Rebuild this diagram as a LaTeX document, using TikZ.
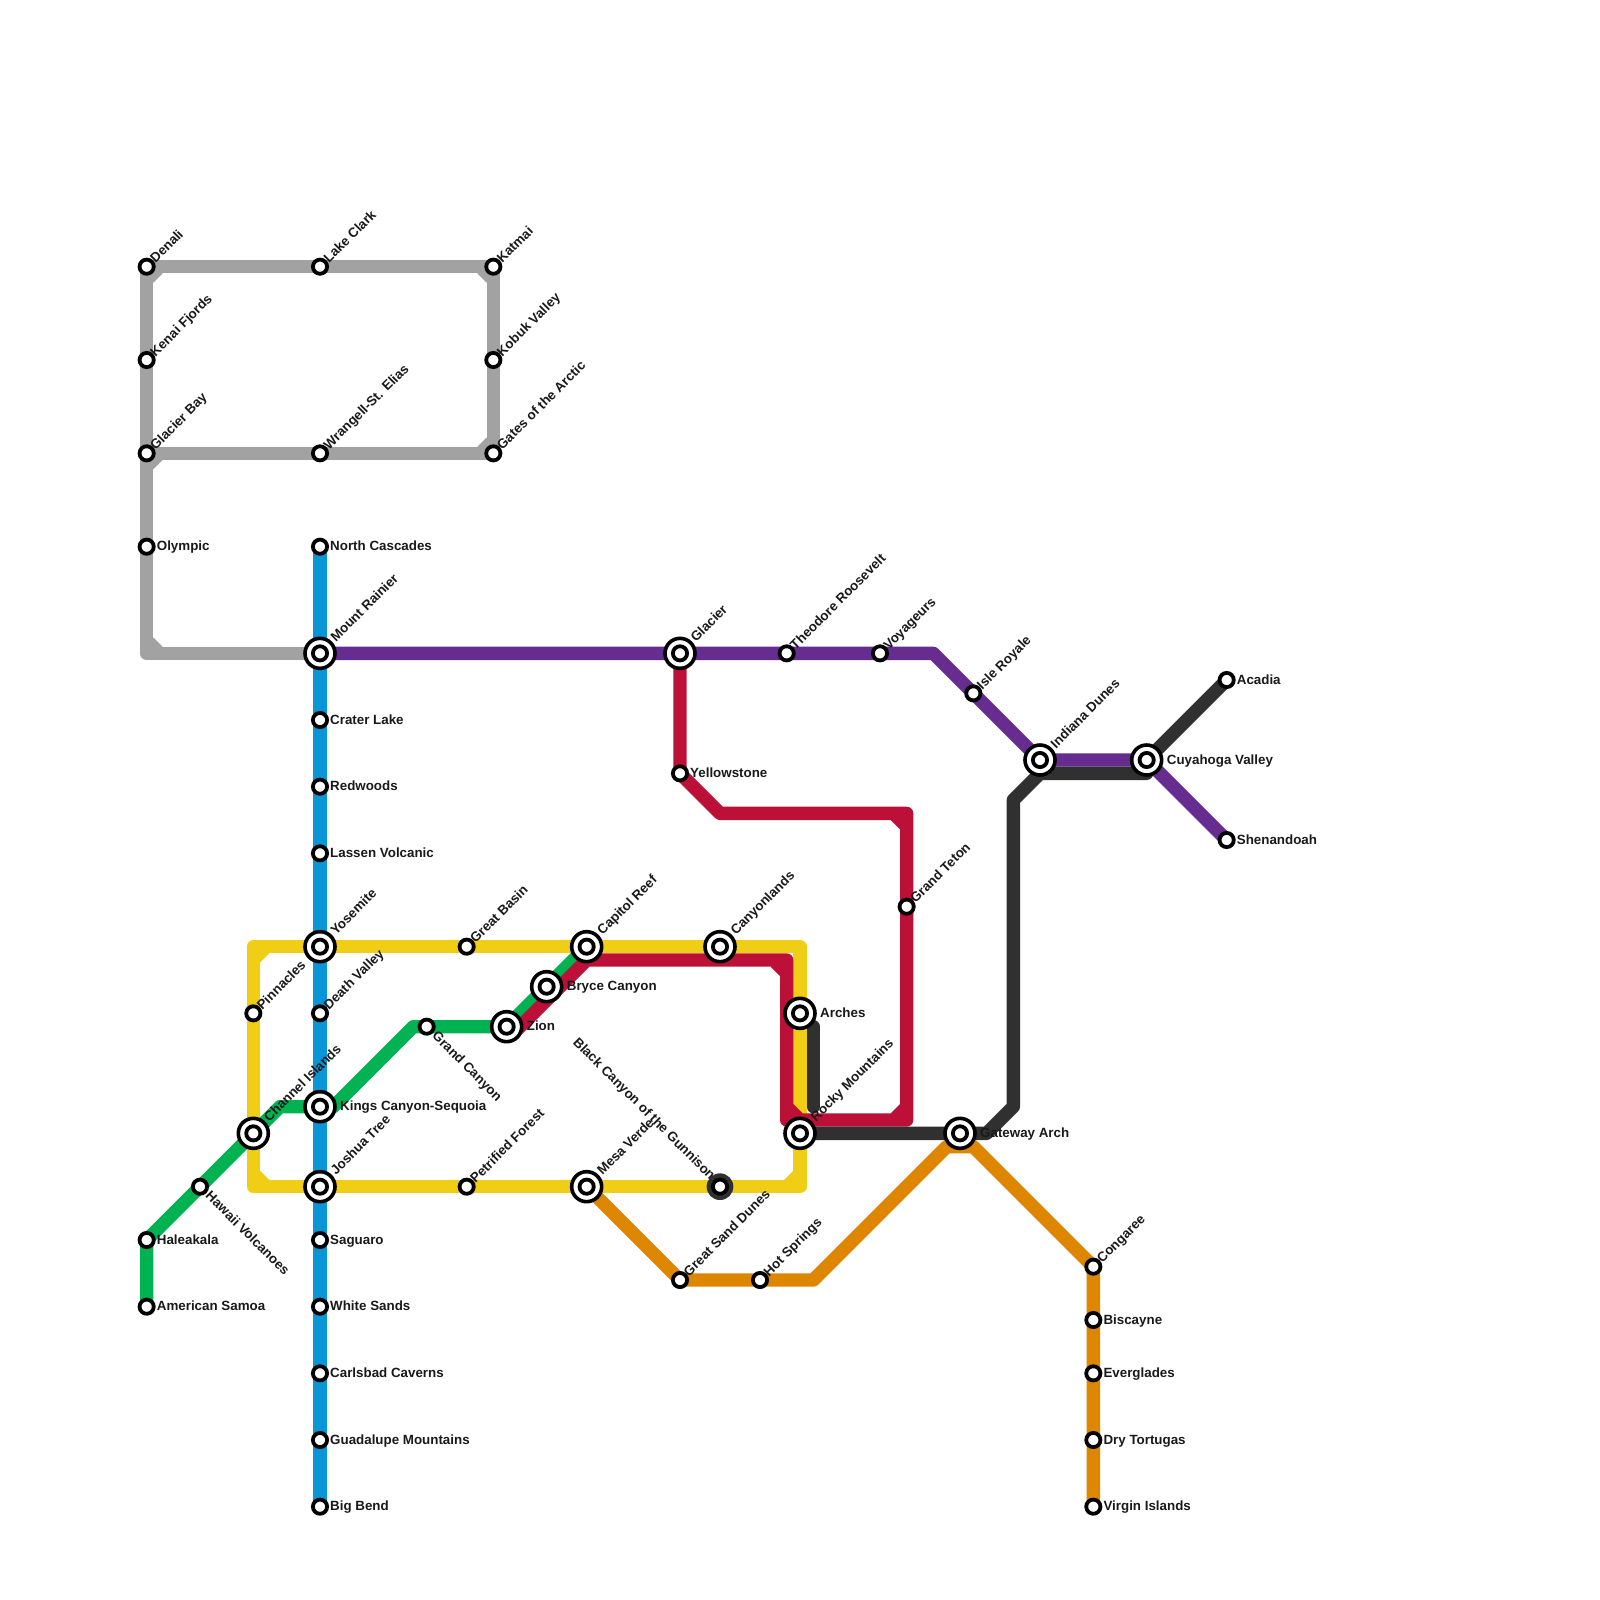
\documentclass[tikz,border=0pt]{standalone}
\usepackage{fontspec}
\setmainfont{Liberation Sans}
\usetikzlibrary{calc}
\definecolor{parkgray}{HTML}{A2A2A2}
\definecolor{parkblue}{HTML}{0896D7}
\definecolor{parkyellow}{HTML}{F0CE15}
\definecolor{parkgreen}{HTML}{00B251}
\definecolor{parkpurple}{HTML}{662C90}
\definecolor{parkred}{HTML}{BD1038}
\definecolor{parkdark}{HTML}{303030}
\definecolor{parkorange}{HTML}{DF8600}
\pgfdeclarelayer{lines}
\pgfsetlayers{lines,main}
% inner corner of a line: colour, corner, direction into the corner
\newcommand{\notch}[4]{\fill[#1] #2 -- ($#2+(#3*1.2,#4*0.5)$) -- ($#2+(#3*0.5,#4*1.2)$) -- cycle;}

\begin{document}
\begin{tikzpicture}[
  x=0.13333cm, y=-0.13333cm,
  route/.style={line width=0.13333cm, line join=round},
  stn/.style={circle, draw=black, fill=white, line width=0.038cm, minimum size=0.142cm, inner sep=0pt},
  hub/.style={stn, line width=0.036cm, minimum size=0.3cm},
  darkhub/.style={circle, fill=parkdark, minimum size=0.267cm, inner sep=0pt},
  parklbl/.style={font=\bfseries\fontsize{3.8pt}{4pt}\selectfont, text=black!90, inner sep=0pt},
  lblright/.style={parklbl, anchor=mid west, xshift=0.095cm, yshift=0.05cm},
  lblhub/.style={parklbl, anchor=mid west, xshift=0.195cm, yshift=0.05cm},
  lblup/.style={parklbl, anchor=mid west, xshift=0.02cm, yshift=0.09cm, rotate=45},
  lblhubup/.style={parklbl, anchor=mid west, xshift=0.09cm, yshift=0.17cm, rotate=45},
  lbldown/.style={parklbl, anchor=mid west, xshift=0.11cm, yshift=-0.03cm, rotate=-45},
  lblback/.style={parklbl, anchor=mid east, xshift=-0.03cm, yshift=0.12cm, rotate=-45}
]
  \useasboundingbox (0,0) rectangle (120,120);

  % stations, west to east
  \node[stn] (denali) at (11,20) {};
  \node[stn] (kenai) at (11,27) {};
  \node[stn] (glacierbay) at (11,34) {};
  \node[stn] (olympic) at (11,41) {};
  \node[stn] (haleakala) at (11,93) {};
  \node[stn] (samoa) at (11,98) {};
  \node[stn] (hawaii) at (15,89) {};
  \node[stn] (pinnacles) at (19,76) {};
  \node[hub] (channel) at (19,85) {};
  \node[stn] (lakeclark) at (24,20) {};
  \node[stn] (wrangell) at (24,34) {};
  \node[stn] (cascades) at (24,41) {};
  \node[hub] (rainier) at (24,49) {};
  \node[stn] (crater) at (24,54) {};
  \node[stn] (redwoods) at (24,59) {};
  \node[stn] (lassen) at (24,64) {};
  \node[hub] (yosemite) at (24,71) {};
  \node[stn] (deathvalley) at (24,76) {};
  \node[hub] (kings) at (24,83) {};
  \node[hub] (joshua) at (24,89) {};
  \node[stn] (saguaro) at (24,93) {};
  \node[stn] (whitesands) at (24,98) {};
  \node[stn] (carlsbad) at (24,103) {};
  \node[stn] (guadalupe) at (24,108) {};
  \node[stn] (bigbend) at (24,113) {};
  \node[stn] (grandcanyon) at (32,77) {};
  \node[stn] (greatbasin) at (35,71) {};
  \node[stn] (petrified) at (35,89) {};
  \node[stn] (katmai) at (37,20) {};
  \node[stn] (kobuk) at (37,27) {};
  \node[stn] (gates) at (37,34) {};
  \node[hub] (zion) at (38,77) {};
  \node[hub] (bryce) at (41,74) {};
  \node[hub] (capitol) at (44,71) {};
  \node[hub] (mesaverde) at (44,89) {};
  \node[hub] (glacier) at (51,49) {};
  \node[stn] (yellowstone) at (51,58) {};
  \node[stn] (sanddunes) at (51,96) {};
  \node[hub] (canyonlands) at (54,71) {};
  \node[darkhub] (blackcanyon) at (54,89) {};
  \node[stn] (hotsprings) at (57,96) {};
  \node[stn] (roosevelt) at (59,49) {};
  \node[hub] (arches) at (60,76) {};
  \node[hub] (rocky) at (60,85) {};
  \node[stn] (voyageurs) at (66,49) {};
  \node[stn] (teton) at (68,68) {};
  \node[hub] (gateway) at (72,85) {};
  \node[stn] (isleroyale) at (73,52) {};
  \node[hub] (indiana) at (78,57) {};
  \node[stn] (congaree) at (82,95) {};
  \node[stn] (biscayne) at (82,99) {};
  \node[stn] (everglades) at (82,103) {};
  \node[stn] (tortugas) at (82,108) {};
  \node[stn] (virgin) at (82,113) {};
  \node[hub] (cuyahoga) at (86,57) {};
  \node[stn] (acadia) at (92,51) {};
  \node[stn] (shenandoah) at (92,63) {};

  % inner ring of the big stations
  \foreach \hubname in {channel, rainier, yosemite, kings, joshua, zion, bryce, capitol, mesaverde, glacier, canyonlands, blackcanyon, arches, rocky, gateway, indiana, cuyahoga}
    \node[stn] (\hubname dot) at (\hubname) {};

  % station names
  \node[lblup] (denalitxt) at (denali) {Denali};
  \node[lblup] (kenaitxt) at (kenai) {Kenai Fjords};
  \node[lblup] (glacierbaytxt) at (glacierbay) {Glacier Bay};
  \node[lblright] (olympictxt) at (olympic) {Olympic};
  \node[lblright] (haleakalatxt) at (haleakala) {Haleakala};
  \node[lblright] (samoatxt) at (samoa) {American Samoa};
  \node[lbldown] (hawaiitxt) at (hawaii) {Hawaii Volcanoes};
  \node[lblup] (pinnaclestxt) at (pinnacles) {Pinnacles};
  \node[lblhubup] (channeltxt) at (channel) {Channel Islands};
  \node[lblup] (lakeclarktxt) at (lakeclark) {Lake Clark};
  \node[lblup] (wrangelltxt) at (wrangell) {Wrangell-St. Elias};
  \node[lblright] (cascadestxt) at (cascades) {North Cascades};
  \node[lblhubup] (rainiertxt) at (rainier) {Mount Rainier};
  \node[lblright] (cratertxt) at (crater) {Crater Lake};
  \node[lblright] (redwoodstxt) at (redwoods) {Redwoods};
  \node[lblright] (lassentxt) at (lassen) {Lassen Volcanic};
  \node[lblhubup] (yosemitetxt) at (yosemite) {Yosemite};
  \node[lblup] (deathvalleytxt) at (deathvalley) {Death Valley};
  \node[lblhub] (kingstxt) at (kings) {Kings Canyon-Sequoia};
  \node[lblhubup] (joshuatxt) at (joshua) {Joshua Tree};
  \node[lblright] (saguarotxt) at (saguaro) {Saguaro};
  \node[lblright] (whitesandstxt) at (whitesands) {White Sands};
  \node[lblright] (carlsbadtxt) at (carlsbad) {Carlsbad Caverns};
  \node[lblright] (guadalupetxt) at (guadalupe) {Guadalupe Mountains};
  \node[lblright] (bigbendtxt) at (bigbend) {Big Bend};
  \node[lbldown] (grandcanyontxt) at (grandcanyon) {Grand Canyon};
  \node[lblup] (greatbasintxt) at (greatbasin) {Great Basin};
  \node[lblup] (petrifiedtxt) at (petrified) {Petrified Forest};
  \node[lblup] (katmaitxt) at (katmai) {Katmai};
  \node[lblup] (kobuktxt) at (kobuk) {Kobuk Valley};
  \node[lblup] (gatestxt) at (gates) {Gates of the Arctic};
  \node[lblhub] (ziontxt) at (zion) {Zion};
  \node[lblhub] (brycetxt) at (bryce) {Bryce Canyon};
  \node[lblhubup] (capitoltxt) at (capitol) {Capitol Reef};
  \node[lblhubup] (mesaverdetxt) at (mesaverde) {Mesa Verde};
  \node[lblhubup] (glaciertxt) at (glacier) {Glacier};
  \node[lblright] (yellowstonetxt) at (yellowstone) {Yellowstone};
  \node[lblup] (sanddunestxt) at (sanddunes) {Great Sand Dunes};
  \node[lblhubup] (canyonlandstxt) at (canyonlands) {Canyonlands};
  \node[lblback] (blackcanyontxt) at (blackcanyon) {Black Canyon of the Gunnison};
  \node[lblup] (hotspringstxt) at (hotsprings) {Hot Springs};
  \node[lblup] (roosevelttxt) at (roosevelt) {Theodore Roosevelt};
  \node[lblhub] (archestxt) at (arches) {Arches};
  \node[lblhubup] (rockytxt) at (rocky) {Rocky Mountains};
  \node[lblup] (voyageurstxt) at (voyageurs) {Voyageurs};
  \node[lblup] (tetontxt) at (teton) {Grand Teton};
  \node[lblhub] (gatewaytxt) at (gateway) {Gateway Arch};
  \node[lblup] (isleroyaletxt) at (isleroyale) {Isle Royale};
  \node[lblhubup] (indianatxt) at (indiana) {Indiana Dunes};
  \node[lblup] (congareetxt) at (congaree) {Congaree};
  \node[lblright] (biscaynetxt) at (biscayne) {Biscayne};
  \node[lblright] (evergladestxt) at (everglades) {Everglades};
  \node[lblright] (tortugastxt) at (tortugas) {Dry Tortugas};
  \node[lblright] (virgintxt) at (virgin) {Virgin Islands};
  \node[lblhub] (cuyahogatxt) at (cuyahoga) {Cuyahoga Valley};
  \node[lblright] (acadiatxt) at (acadia) {Acadia};
  \node[lblright] (shenandoahtxt) at (shenandoah) {Shenandoah};

  % bends
  \coordinate (graycorner) at (11,49);
  \coordinate (yellownw) at (19,71);
  \coordinate (yellowne) at (60,71);
  \coordinate (yellowse) at (60,89);
  \coordinate (yellowsw) at (19,89);
  \coordinate (greena) at (21,83);
  \coordinate (greenb) at (25,83);
  \coordinate (greenc) at (31,77);
  \coordinate (purplea) at (70,49);
  \coordinate (reda) at (54,61);
  \coordinate (redb) at (68,61);
  \coordinate (redc) at (68,84);
  \coordinate (redd) at (59,84);
  \coordinate (rede) at (59,72);
  \coordinate (redf) at (44,72);
  \coordinate (redg) at (38.5,77.5);
  \coordinate (darka) at (61,77);
  \coordinate (darkb) at (61,83);
  \coordinate (darkc) at (74,85);
  \coordinate (darkd) at (76,83);
  \coordinate (darke) at (76,60);
  \coordinate (darkf) at (78,58);
  \coordinate (darkg) at (86,58);
  \coordinate (orangea) at (61,96);
  \coordinate (orangeb) at (71,86);
  \coordinate (orangec) at (73,86);

  \begin{pgfonlayer}{lines}
    % gray
    \draw[route, parkgray] (glacierbay.center) -- (gates.center) -- (katmai.center) -- (denali.center) -- (graycorner) -- (rainier.center);
    \notch{parkgray}{(11,20)}{1}{1}
    \notch{parkgray}{(37,20)}{-1}{1}
    \notch{parkgray}{(37,34)}{-1}{-1}
    \notch{parkgray}{(11,34)}{1}{1}
    \notch{parkgray}{(11,49)}{1}{-1}
    % blue
    \draw[route, parkblue] (cascades.center) -- (bigbend.center);
    % yellow
    \draw[route, parkyellow] (yellownw) -- (yellowne) -- (yellowse) -- (yellowsw) -- cycle;
    \notch{parkyellow}{(19,71)}{1}{1}
    \notch{parkyellow}{(19,89)}{1}{-1}
    \notch{parkyellow}{(60,89)}{-1}{-1}
    % green
    \draw[route, parkgreen] (samoa.center) -- (haleakala.center) -- (channel.center) -- (greena) -- (kings.center) -- (greenb) -- (greenc) -- (zion.center) -- (capitol.center);
    % purple
    \draw[route, parkpurple] (rainier.center) -- (purplea) -- (indiana.center) -- (cuyahoga.center) -- (shenandoah.center);
    % red
    \draw[route, parkred] (glacier.center) -- (yellowstone.center) -- (reda) -- (redb) -- (redc) -- (redd) -- (rede) -- (redf) -- (redg);
    \notch{parkred}{(68,61)}{-1}{1}
    \notch{parkred}{(68,84)}{-1}{-1}
    \notch{parkred}{(59,84)}{1}{-1}
    \notch{parkred}{(59,72)}{-1}{1}
    % dark
    \draw[route, parkdark, line cap=round] (darka) -- (darkb);
    \draw[route, parkdark] (rocky.center) -- (darkc) -- (darkd) -- (darke) -- (darkf) -- (darkg);
    \draw[route, parkdark, line cap=round] (darkf) -- (darkg);
    \draw[route, parkdark] (cuyahoga.center) -- (acadia.center);
    % orange
    \draw[route, parkorange] (mesaverde.center) -- (sanddunes.center) -- (orangea) -- (orangeb) -- (orangec) -- (congaree.center) -- (virgin.center);
  \end{pgfonlayer}
\end{tikzpicture}
\end{document}
